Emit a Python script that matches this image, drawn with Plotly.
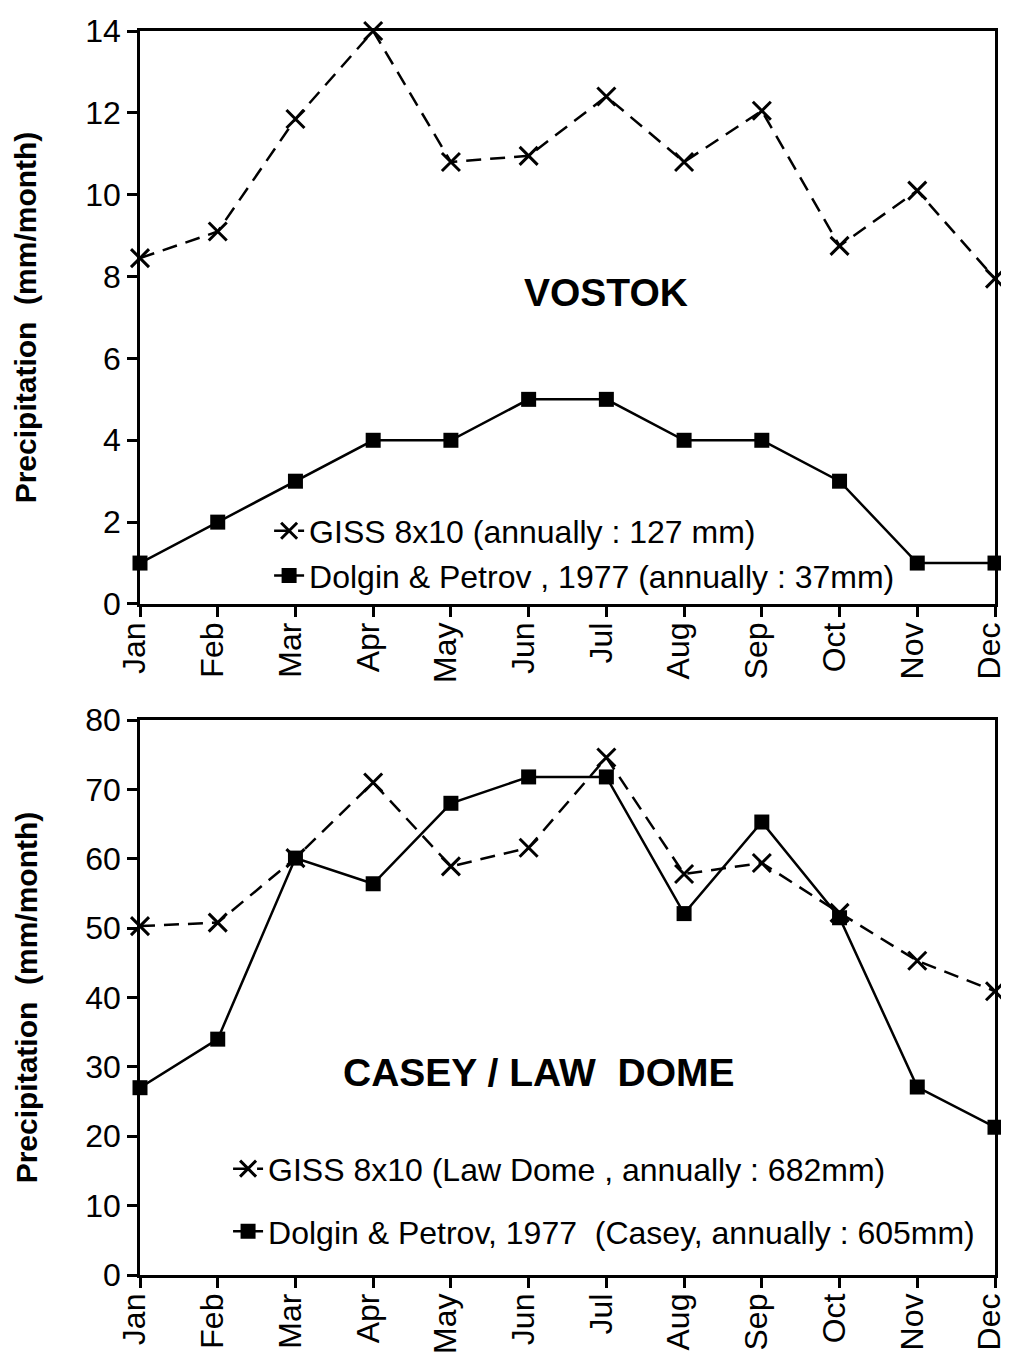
import plotly.graph_objects as go
from plotly.subplots import make_subplots

months = ["Jan", "Feb", "Mar", "Apr", "May", "Jun",
          "Jul", "Aug", "Sep", "Oct", "Nov", "Dec"]

# Vostok (mm/month)
vostok_giss = [8.45, 9.1, 11.85, 14.0, 10.8, 10.95, 12.4, 10.8, 12.05, 8.75, 10.1, 7.95]
vostok_dolgin = [1, 2, 3, 4, 4, 5, 5, 4, 4, 3, 1, 1]

# Casey / Law Dome (mm/month)
casey_giss = [50.3, 50.8, 60.1, 71.0, 58.9, 61.6, 74.6, 57.8, 59.4, 52.2, 45.3, 40.9]
casey_dolgin = [27.0, 34.0, 60.1, 56.4, 68.0, 71.8, 71.8, 52.1, 65.3, 51.5, 27.1, 21.3]

FONT = "Liberation Sans, Arial, Helvetica, sans-serif"

fig = make_subplots(rows=2, cols=1, vertical_spacing=0.05)

dash = "15px,9px"

fig.add_trace(go.Scatter(
    x=months, y=vostok_giss, name="GISS 8x10 (annually : 127 mm)",
    mode="lines+markers", line=dict(color="black", width=2.5, dash=dash),
    marker=dict(symbol="x-thin", size=18, line=dict(color="black", width=3)),
    cliponaxis=False, legend="legend", legendgroup="a"), row=1, col=1)
fig.add_trace(go.Scatter(
    x=months, y=vostok_dolgin, name="Dolgin & Petrov , 1977 (annually : 37mm)",
    mode="lines+markers", line=dict(color="black", width=2.5),
    marker=dict(symbol="square", size=15, color="black"),
    cliponaxis=False, legend="legend", legendgroup="b"), row=1, col=1)

fig.add_trace(go.Scatter(
    x=months, y=casey_giss, name="GISS 8x10 (Law Dome , annually : 682mm)",
    mode="lines+markers", line=dict(color="black", width=2.5, dash=dash),
    marker=dict(symbol="x-thin", size=18, line=dict(color="black", width=3)),
    cliponaxis=False, legend="legend2", legendgroup="c"), row=2, col=1)
fig.add_trace(go.Scatter(
    x=months, y=casey_dolgin, name="Dolgin & Petrov, 1977  (Casey, annually : 605mm)",
    mode="lines+markers", line=dict(color="black", width=2.5),
    marker=dict(symbol="square", size=15, color="black"),
    cliponaxis=False, legend="legend2", legendgroup="d"), row=2, col=1)

axis_common = dict(
    showline=True, linecolor="black", linewidth=2.5, mirror=True,
    ticks="outside", ticklen=10, tickwidth=2.5, tickcolor="black",
    showgrid=False, zeroline=False, automargin=False,
    tickfont=dict(family=FONT, size=32, color="black"),
)

fig.update_xaxes(type="category", range=[0, 11], tickangle=-90,
                 ticklabelstandoff=-7, ticklabelshift=-5, **axis_common)
fig.update_yaxes(**axis_common)

title_font = dict(family=FONT, size=30, color="black", weight="bold")
fig.update_yaxes(range=[0, 14], dtick=2, domain=[0.5394, 1.0],
                 title=dict(text="Precipitation  (mm/month)", font=title_font, standoff=40),
                 row=1, col=1)
fig.update_yaxes(range=[0, 80], dtick=10, domain=[0.0, 0.4461],
                 title=dict(text="Precipitation  (mm/month)", font=title_font, standoff=39),
                 row=2, col=1)

fig.add_annotation(x="Jul", y=7.6, xref="x", yref="y", text="<b>VOSTOK</b>",
                   showarrow=False, font=dict(family=FONT, size=39, color="black"))
fig.add_annotation(x=5.13, y=29.2, xref="x2", yref="y2", text="<b>CASEY / LAW  DOME</b>",
                   showarrow=False, font=dict(family=FONT, size=39, color="black"))

legend_common = dict(
    bgcolor="rgba(0,0,0,0)", borderwidth=0, xanchor="left", yanchor="middle",
    font=dict(family=FONT, size=32, color="black"), itemwidth=30,
)
fig.update_layout(
    width=1001, height=1346,
    margin=dict(l=132, r=14, t=23, b=79),
    paper_bgcolor="white", plot_bgcolor="white",
    font=dict(family=FONT, color="black"),
    legend=dict(x=0.151, y=0.580, tracegroupgap=0, **legend_common),
    legend2=dict(x=0.103, y=0.060, tracegroupgap=18, **legend_common),
)

fig.write_html("out.html")
